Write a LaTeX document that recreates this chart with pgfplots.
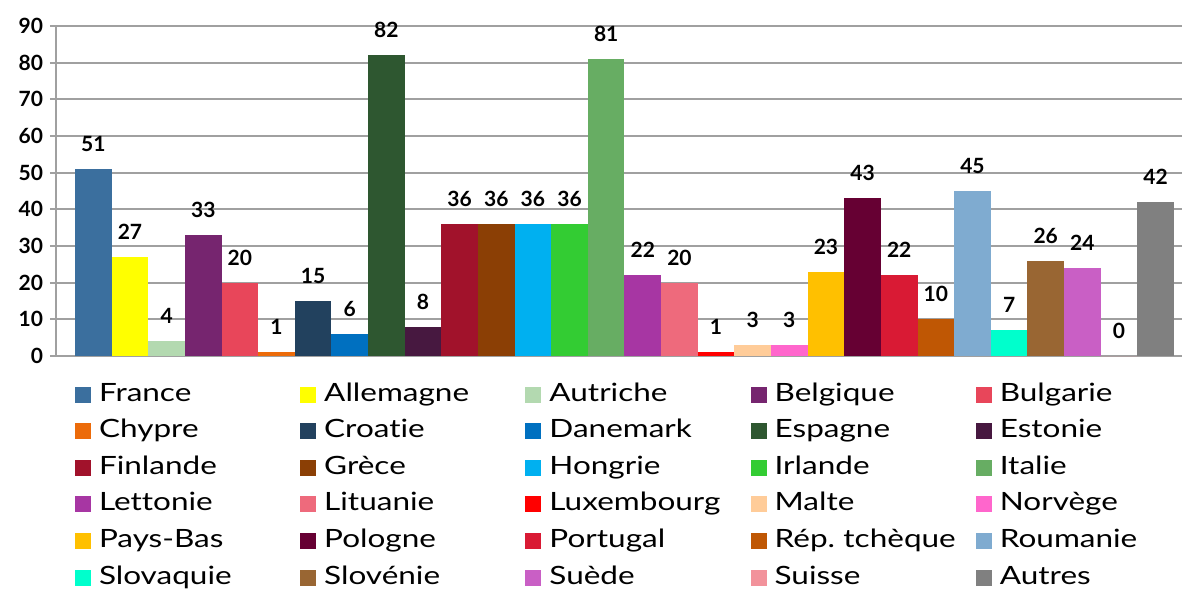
\documentclass[border=0pt]{standalone}
\usepackage{fontspec}
\setmainfont{Lato}
\newfontfamily\legendfont{Lato}[FakeStretch=1.25, Ligatures={NoCommon, NoRare, NoDiscretionary}]
\usepackage{pgfplots}
\pgfplotsset{compat=1.18}
\definecolor{gridgray}{HTML}{A0A0A0}
\definecolor{cFrance}{HTML}{3B6F9E}
\definecolor{cAllemagne}{HTML}{FFFF00}
\definecolor{cAutriche}{HTML}{B3D9B0}
\definecolor{cBelgique}{HTML}{76256F}
\definecolor{cBulgarie}{HTML}{E8465A}
\definecolor{cChypre}{HTML}{EC6B0A}
\definecolor{cCroatie}{HTML}{22415E}
\definecolor{cDanemark}{HTML}{0070C0}
\definecolor{cEspagne}{HTML}{2E5730}
\definecolor{cEstonie}{HTML}{471840}
\definecolor{cFinlande}{HTML}{A1122B}
\definecolor{cGrece}{HTML}{8B3F05}
\definecolor{cHongrie}{HTML}{00B0F0}
\definecolor{cIrlande}{HTML}{33CC33}
\definecolor{cItalie}{HTML}{67AD63}
\definecolor{cLettonie}{HTML}{A736A3}
\definecolor{cLituanie}{HTML}{EE6A7C}
\definecolor{cLuxembourg}{HTML}{FF0000}
\definecolor{cMalte}{HTML}{FFCC99}
\definecolor{cNorvege}{HTML}{FF66CC}
\definecolor{cPaysBas}{HTML}{FFC000}
\definecolor{cPologne}{HTML}{660033}
\definecolor{cPortugal}{HTML}{D91A34}
\definecolor{cRepTcheque}{HTML}{BF5704}
\definecolor{cRoumanie}{HTML}{7FABD0}
\definecolor{cSlovaquie}{HTML}{00FFCC}
\definecolor{cSlovenie}{HTML}{996633}
\definecolor{cSuede}{HTML}{C95FC5}
\definecolor{cSuisse}{HTML}{F2929B}
\definecolor{cAutres}{HTML}{808080}
\begin{document}
\begin{tikzpicture}
\useasboundingbox (0,0) rectangle (591.5pt,295pt);
\begin{axis}[
  scale only axis, width=563pt, height=165pt,
  at={(28pt,117pt)}, anchor=south west,
  xmin=-1.02, xmax=29.72, ymin=0, ymax=90,
  ytick={0,10,...,90}, xtick=\empty,
  axis x line=bottom, axis y line=left,
  axis line style={-, draw=gridgray, line width=1pt},
  ymajorgrids, grid style={gridgray, line width=1pt},
  tick align=outside, major tick length=3pt,
  tick style={gridgray, line width=1pt},
  yticklabel style={font=\bfseries\fontsize{10.5}{12}\selectfont, text=black},
  /pgf/number format/assume math mode=true,
  every axis plot/.append style={ybar, bar width=1, bar shift=0pt, draw=none},
  nodes near coords,
  nodes near coords style={font=\bfseries\fontsize{10.5}{12}\selectfont, anchor=south, inner sep=0pt, yshift=8.5pt, text=black},
  legend columns=5,
  legend image code/.code={\fill[#1] (0pt,-4pt) rectangle (8pt,4pt);},
  legend cell align=left,
  legend style={at={(axis description cs:0.0169,-0.0788)}, anchor=north west,
    draw=none, fill=none, inner sep=0pt, outer sep=0pt,
    font=\legendfont\fontsize{12.6}{15}\selectfont, column sep=0pt, row sep=5.8pt,
    nodes={inner sep=0pt, text height=9.5pt, text depth=3pt, text width=100.6pt, align=left},
    /tikz/every odd column/.style={column sep=4pt}},
  clip=false
]
\addplot[fill=cFrance] coordinates {(0,51)};
\addlegendentry{France}
\addplot[fill=cAllemagne] coordinates {(1,27)};
\addlegendentry{Allemagne}
\addplot[fill=cAutriche] coordinates {(2,4)};
\addlegendentry{Autriche}
\addplot[fill=cBelgique] coordinates {(3,33)};
\addlegendentry{Belgique}
\addplot[fill=cBulgarie] coordinates {(4,20)};
\addlegendentry{Bulgarie}
\addplot[fill=cChypre] coordinates {(5,1)};
\addlegendentry{Chypre}
\addplot[fill=cCroatie] coordinates {(6,15)};
\addlegendentry{Croatie}
\addplot[fill=cDanemark] coordinates {(7,6)};
\addlegendentry{Danemark}
\addplot[fill=cEspagne] coordinates {(8,82)};
\addlegendentry{Espagne}
\addplot[fill=cEstonie] coordinates {(9,8)};
\addlegendentry{Estonie}
\addplot[fill=cFinlande] coordinates {(10,36)};
\addlegendentry{Finlande}
\addplot[fill=cGrece] coordinates {(11,36)};
\addlegendentry{Grèce}
\addplot[fill=cHongrie] coordinates {(12,36)};
\addlegendentry{Hongrie}
\addplot[fill=cIrlande] coordinates {(13,36)};
\addlegendentry{Irlande}
\addplot[fill=cItalie] coordinates {(14,81)};
\addlegendentry{Italie}
\addplot[fill=cLettonie] coordinates {(15,22)};
\addlegendentry{Lettonie}
\addplot[fill=cLituanie] coordinates {(16,20)};
\addlegendentry{Lituanie}
\addplot[fill=cLuxembourg] coordinates {(17,1)};
\addlegendentry{Luxembourg}
\addplot[fill=cMalte] coordinates {(18,3)};
\addlegendentry{Malte}
\addplot[fill=cNorvege] coordinates {(19,3)};
\addlegendentry{Norvège}
\addplot[fill=cPaysBas] coordinates {(20,23)};
\addlegendentry{Pays-Bas}
\addplot[fill=cPologne] coordinates {(21,43)};
\addlegendentry{Pologne}
\addplot[fill=cPortugal] coordinates {(22,22)};
\addlegendentry{Portugal}
\addplot[fill=cRepTcheque] coordinates {(23,10)};
\addlegendentry{Rép.\ tchèque}
\addplot[fill=cRoumanie] coordinates {(24,45)};
\addlegendentry{Roumanie}
\addplot[fill=cSlovaquie] coordinates {(25,7)};
\addlegendentry{Slovaquie}
\addplot[fill=cSlovenie] coordinates {(26,26)};
\addlegendentry{Slovénie}
\addplot[fill=cSuede] coordinates {(27,24)};
\addlegendentry{Suède}
\addplot[fill=cSuisse] coordinates {(28,0)};
\addlegendentry{Suisse}
\addplot[fill=cAutres] coordinates {(29,42)};
\addlegendentry{Autres}
\end{axis}
\end{tikzpicture}
\end{document}
